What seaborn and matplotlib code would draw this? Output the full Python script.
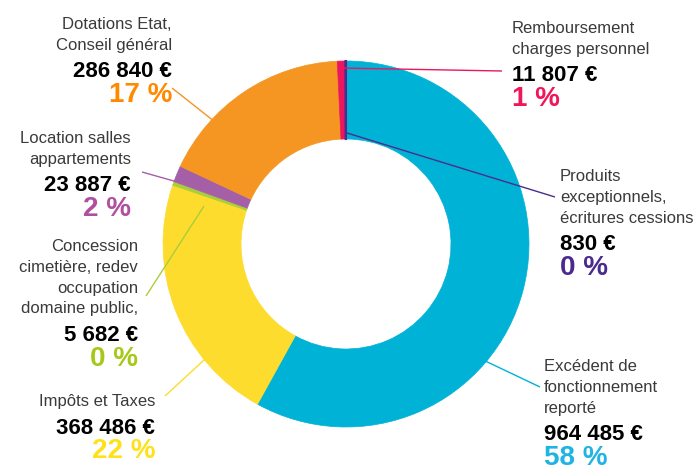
import matplotlib.pyplot as plt
import seaborn as sns

# Recettes de fonctionnement (clockwise from 12 o'clock)
categories = [
    "Excédent de\nfonctionnement\nreporté",
    "Impôts et Taxes",
    "Concession\ncimetière, redev\noccupation\ndomaine public,",
    "Location salles\nappartements",
    "Dotations Etat,\nConseil général",
    "Remboursement\ncharges personnel",
    "Produits\nexceptionnels,\nécritures cessions",
]
amounts = [964485, 368486, 5682, 23887, 286840, 11807, 830]
percents = [58, 22, 0, 2, 17, 1, 0]

wedge_colors = ["#00b2d6", "#fddc2e", "#a9ce3a", "#a55fa7", "#f59522", "#ec1660", "#4a2d8c"]
pct_colors = ["#1eb4e3", "#ffe11a", "#a6c81a", "#b04fa0", "#ff8a00", "#f0165a", "#4a2a8e"]

W, H = 700, 471

def P(x, y):
    # pixel coords (origin top-left) -> data coords
    return (x, H - y)

# label layout: anchor x, alignment, baseline of first line (pixels)
label_x = [544, 155, 138, 131, 172, 512, 560]
label_ha = ["left", "right", "right", "right", "right", "left", "left"]
label_y0 = [371, 406, 251, 143, 29, 33, 181]
# leader lines: point near the text -> point on the ring
leader_txt = [(540, 387), (165, 396), (146, 296), (142, 172), (172, 88), (502, 71), (555, 197)]
leader_ring = [(460, 349), (229, 337), (204, 206), (188, 185), (229, 133), (340, 68), (347, 133)]

sns.set_theme(style="white")
plt.rcParams['font.family'] = ['Liberation Sans', 'DejaVu Sans']

fig = plt.figure(figsize=(7, 4.71), dpi=100)
ax = fig.add_axes([0, 0, 1, 1])

wedges, _ = ax.pie(amounts, colors=wedge_colors, startangle=90, counterclock=False,
                   center=P(346, 244), radius=183,
                   wedgeprops=dict(width=78, linewidth=0))
for w, c in zip(wedges, wedge_colors):
    w.set_edgecolor(c)
    w.set_linewidth(0.5)
    w.set_joinstyle('miter')
wedges[-1].set_linewidth(1.5)

ax.set_xlim(0, W)
ax.set_ylim(0, H)
ax.axis('off')

for i, name in enumerate(categories):
    x = label_x[i]
    ha = label_ha[i]
    y = label_y0[i]
    lines = name.split("\n")
    for j, line in enumerate(lines):
        ax.text(*P(x, y + j * 20.8), line, ha=ha, va='baseline', fontsize=12, color='#3a3a3a')
    y_amt = y + (len(lines) - 1) * 20.8 + 27.5
    amt = f"{amounts[i]:,}".replace(",", " ") + " €"
    ax.text(*P(x, y_amt), amt, ha=ha, va='baseline', fontsize=16, fontweight='bold', color='black')
    ax.text(*P(x, y_amt + 25), f"{percents[i]} %", ha=ha, va='baseline', fontsize=20,
            fontweight='bold', color=pct_colors[i])
    (x1, y1), (x2, y2) = leader_txt[i], leader_ring[i]
    ax.plot([x1, x2], [H - y1, H - y2], color=wedge_colors[i], lw=1, solid_capstyle='butt')

fig.savefig('out.png', dpi=100)
